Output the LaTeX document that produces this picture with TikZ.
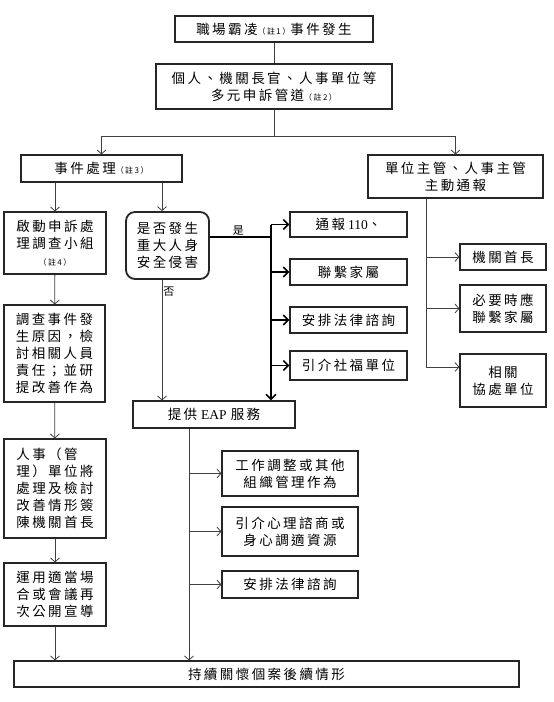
\documentclass[tikz,border=0pt]{standalone}
\usepackage{fontspec}
\setmainfont{Noto Sans CJK TC}[LetterSpace=18]
\newfontfamily\latin{Liberation Serif}
\usetikzlibrary{arrows.meta}

\newcommand{\zhu}[1]{{\fontsize{8}{10}\selectfont（註#1）}}

\begin{document}
\begin{tikzpicture}[x=1pt, y=-1pt,
  box/.style={draw=black!85, line width=1.1pt, inner sep=0pt, align=center,
    font=\fontsize{13.5}{17}\selectfont},
  qbox/.style={box, line width=1.8pt, rounded corners=9pt},
  conn/.style={draw=black!75, line width=0.8pt},
  arr/.style={conn, -{Straight Barb[length=4pt,width=9pt]}},
  barr/.style={line width=1.6pt, -{Straight Barb[length=5pt,width=10pt]}},
  lab/.style={font=\fontsize{11}{12}\selectfont, inner sep=1pt}]
  \useasboundingbox (0,0) rectangle (554,702);

  % 上方：事件發生與申訴管道
  \node[box, minimum width=198pt, minimum height=26pt] (start) at (274,29)
    {職場霸凌\zhu{1}事件發生};
  \node[box, minimum width=236pt, minimum height=45pt] (chan) at (274,86.5)
    {個人、機關長官、人事單位等\\多元申訴管道\zhu{2}};
  \node[box, minimum width=161pt, minimum height=27pt] (handle) at (101.5,168.5)
    {事件處理\zhu{3}};
  \node[box, minimum width=175pt, minimum height=43pt] (report) at (455.5,176.5)
    {單位主管、人事主管\\主動通報};

  % 左欄
  \node[box, minimum width=102pt, minimum height=62pt] (team) at (55,243)
    {啟動申訴處\\理調查小組\\\zhu{4}};
  \node[box, minimum width=101pt, minimum height=97pt] (inv) at (54.5,353.5)
    {調查事件發\\生原因，檢\\討相關人員\\責任；並研\\提改善作為};
  \node[box, align=left, minimum width=102pt, minimum height=99pt] (hr) at (55,488.5)
    {人事（管\\理）單位將\\處理及檢討\\改善情形簽\\陳機關首長};
  \node[box, minimum width=102pt, minimum height=63pt] (pub) at (55,594.5)
    {運用適當場\\合或會議再\\次公開宣導};

  % 中欄
  \node[qbox, minimum width=83pt, minimum height=67pt] (danger) at (167.5,245.5)
    {是否發生\\重大人身\\安全侵害};
  \node[box, minimum width=117pt, minimum height=25pt] (r1) at (348.5,224.5)
    {通報\hspace{3pt}{\latin 110}、};
  \node[box, minimum width=117pt, minimum height=26pt] (r2) at (348.5,272) {聯繫家屬};
  \node[box, minimum width=117pt, minimum height=26pt] (r3) at (348.5,320) {安排法律諮詢};
  \node[box, minimum width=117pt, minimum height=29pt] (r4) at (348.5,365.5) {引介社福單位};
  \node[box, minimum width=162pt, minimum height=27pt] (eap) at (214,414.5)
    {提供\hspace{4pt}{\latin EAP}\hspace{4pt}服務};
  \node[box, minimum width=136pt, minimum height=45pt] (e1) at (290,473.5)
    {工作調整或其他\\組織管理作為};
  \node[box, minimum width=136pt, minimum height=49pt] (e2) at (290,531.5)
    {引介心理諮商或\\身心調適資源};
  \node[box, minimum width=136pt, minimum height=27pt] (e3) at (290,584.5) {安排法律諮詢};

  % 右欄
  \node[box, minimum width=86pt, minimum height=26pt] (hd) at (503,257) {機關首長};
  \node[box, minimum width=86pt, minimum height=47pt] (fam) at (503,308.5)
    {必要時應\\聯繫家屬};
  \node[box, minimum width=86pt, minimum height=53pt] (coop) at (503,380.5)
    {相關\\協處單位};

  \node[box, minimum width=505pt, minimum height=26pt] (care) at (266.5,674)
    {持續關懷個案後續情形};

  % 連接線
  \coordinate (split) at (274,136);
  \coordinate (qin) at ([xshift=-5.5pt]danger.north);
  \coordinate (spine) at (271,237);
  \coordinate (eapout) at ([xshift=-25pt]eap.south);
  \coordinate (rout) at ([xshift=-29.5pt]report.south);

  \draw[conn] (start) -- (chan);
  \draw[conn] (chan.south) -- (split);
  \draw[arr] (split) -| (handle.north);
  \draw[arr] (split) -| (report.north);

  \draw[arr] (handle.south -| team.north) -- (team.north);
  \draw[arr] (team) -- (inv);
  \draw[arr] (inv) -- (hr);
  \draw[arr] (hr) -- (pub);
  \draw[arr] (pub.south) -- (pub.south |- care.north);

  \draw[arr] (handle.south -| qin) -- (qin);
  \draw[arr] (danger.south -| qin) -- (eap.north -| qin)
    node[lab, pos=0.1, right] (no) {否};
  \draw[line width=1.6pt] ([yshift=8.5pt]danger.east) -- (spine)
    node[lab, midway, above, xshift=-2pt] (yes) {是};
  \draw[barr] (r1.west -| spine) -- (eap.north -| spine);
  \foreach \r in {r1,r2,r3,r4}
    \draw[barr] (\r.west -| spine) -- (\r.west);

  \draw[arr] (eapout) -- (eapout |- care.north);
  \foreach \e in {e1,e2,e3}
    \draw[arr] (eapout |- \e.west) -- (\e.west);

  \draw[arr] (rout) |- ([yshift=13.5pt]coop.west);
  \draw[arr] (rout |- hd.west) -- (hd.west);
  \draw[arr] (rout |- fam.west) -- (fam.west);
\end{tikzpicture}
\end{document}
